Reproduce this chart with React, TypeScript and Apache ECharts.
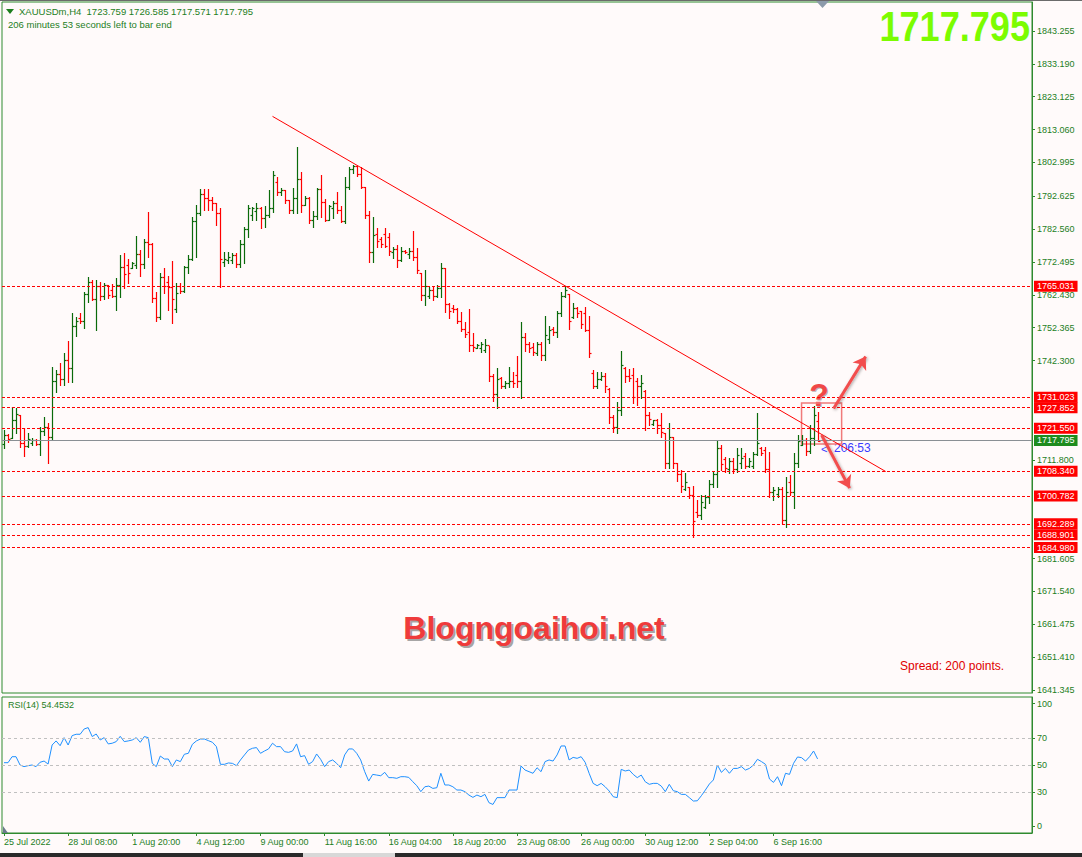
import React, { useEffect, useRef } from "react";
import * as echarts from "echarts";

// ---------- Data (XAUUSDm, H4) ----------
const opens = [
  1716.8, 1719.5, 1718.6, 1724.0, 1725.5, 1717.0, 1716.0, 1717.0, 1718.0, 1716.8,
  1720.8, 1722.0, 1719.0, 1736.0, 1738.2, 1736.5, 1742.5, 1739.9, 1752.8, 1755.4,
  1754.5, 1762.6, 1766.5, 1761.2, 1765.0, 1762.0, 1765.3, 1764.0, 1762.0, 1765.5,
  1771.0, 1771.5, 1770.5, 1771.5, 1775.0, 1772.0, 1778.5, 1778.0, 1761.5, 1755.5,
  1768.0, 1766.5, 1764.8, 1758.0, 1765.0, 1763.5, 1770.8, 1773.5, 1785.0, 1787.5,
  1793.3, 1792.0, 1791.5, 1790.5, 1787.5, 1772.5, 1773.0, 1773.0, 1774.5, 1772.0,
  1778.0, 1782.5, 1787.0, 1788.0, 1789.0, 1786.0, 1787.0, 1789.0, 1797.0, 1794.0,
  1794.5, 1791.5, 1788.5, 1792.0, 1797.8, 1790.0, 1792.0, 1785.5, 1786.5, 1795.0,
  1791.0, 1785.5, 1789.0, 1790.5, 1788.5, 1785.0, 1795.5, 1801.0, 1802.0, 1799.5,
  1795.5, 1787.0, 1775.5, 1781.0, 1779.5, 1781.0, 1780.0, 1775.5, 1776.5, 1773.0,
  1776.0, 1775.0, 1776.0, 1774.0, 1769.0, 1762.5, 1762.0, 1764.0, 1762.0, 1764.5,
  1770.5, 1759.5, 1758.5, 1758.0, 1754.5, 1752.0, 1751.0, 1747.0, 1746.0, 1746.0,
  1745.5, 1747.0, 1737.5, 1732.0, 1737.0, 1734.5, 1735.5, 1736.0, 1738.0, 1736.0,
  1749.5, 1747.5, 1746.5, 1744.5, 1747.5, 1744.0, 1749.0, 1752.0, 1751.0, 1757.0,
  1762.0, 1762.7, 1755.5, 1758.5, 1757.5, 1757.0, 1751.5, 1738.5, 1734.5, 1736.5,
  1737.5, 1733.5, 1725.0, 1722.0, 1727.0, 1740.0, 1737.5, 1738.0, 1736.0, 1734.5,
  1733.0, 1725.5, 1723.0, 1724.0, 1722.5, 1720.0, 1711.0, 1719.0, 1711.0, 1707.5,
  1703.0, 1703.5, 1701.0, 1696.0, 1695.0, 1697.5, 1700.5, 1704.5, 1707.5, 1715.5,
  1712.0, 1709.0, 1711.5, 1709.0, 1711.0, 1713.0, 1710.0, 1710.0, 1713.8, 1715.5,
  1715.0, 1709.0, 1702.0, 1701.5, 1703.0, 1693.5, 1705.0, 1702.0, 1711.0, 1716.5,
  1718.0, 1714.5, 1718.5, 1723.759,
];
const highs = [
  1721.0, 1719.8, 1728.2, 1727.7, 1725.6, 1721.5, 1720.2, 1718.5, 1718.2, 1721.8,
  1725.1, 1723.1, 1740.4, 1739.4, 1741.4, 1744.5, 1748.3, 1756.8, 1755.7, 1756.8,
  1763.4, 1768.0, 1767.0, 1767.0, 1766.5, 1766.1, 1765.4, 1765.7, 1767.5, 1774.6,
  1775.1, 1773.3, 1772.6, 1780.5, 1776.2, 1779.5, 1787.9, 1778.2, 1763.4, 1769.0,
  1770.7, 1768.2, 1772.8, 1765.9, 1765.9, 1771.3, 1774.6, 1786.2, 1790.0, 1794.7,
  1794.7, 1794.7, 1792.5, 1790.7, 1788.9, 1775.6, 1775.6, 1775.1, 1775.1, 1779.2,
  1783.1, 1790.0, 1789.4, 1790.5, 1789.4, 1789.7, 1794.5, 1800.4, 1798.6, 1795.1,
  1794.5, 1791.5, 1795.3, 1807.8, 1800.1, 1792.7, 1792.3, 1788.2, 1795.1, 1799.1,
  1791.7, 1790.0, 1791.3, 1794.0, 1789.7, 1798.4, 1801.7, 1802.2, 1802.0, 1801.7,
  1795.6, 1788.1, 1786.4, 1782.8, 1780.2, 1782.8, 1781.3, 1777.2, 1777.7, 1777.2,
  1776.2, 1776.7, 1782.1, 1776.7, 1769.2, 1770.0, 1764.9, 1764.9, 1765.4, 1772.1,
  1770.5, 1759.8, 1759.3, 1758.3, 1757.3, 1754.2, 1758.0, 1750.6, 1747.4, 1748.1,
  1748.8, 1746.6, 1738.1, 1739.9, 1737.4, 1736.1, 1740.2, 1738.9, 1743.7, 1754.0,
  1750.6, 1748.1, 1747.6, 1747.9, 1748.1, 1756.0, 1752.9, 1752.7, 1757.6, 1763.4,
  1765.1, 1762.7, 1759.8, 1758.8, 1757.6, 1758.8, 1756.0, 1739.4, 1738.9, 1738.7,
  1738.4, 1733.8, 1725.6, 1729.5, 1745.2, 1740.4, 1739.6, 1740.1, 1737.0, 1737.9,
  1733.3, 1726.6, 1724.1, 1724.3, 1726.3, 1720.0, 1723.3, 1719.0, 1711.0, 1708.8,
  1707.7, 1703.6, 1703.9, 1699.6, 1701.1, 1701.1, 1705.7, 1708.3, 1717.9, 1716.4,
  1712.8, 1712.3, 1712.3, 1715.4, 1715.4, 1713.9, 1712.3, 1714.4, 1726.1, 1715.9,
  1715.9, 1714.4, 1703.7, 1703.7, 1703.7, 1706.7, 1707.2, 1713.9, 1719.5, 1719.5,
  1718.5, 1722.5, 1728.4, 1726.585,
];
const lows = [
  1715.4, 1717.4, 1718.5, 1720.0, 1715.9, 1713.0, 1715.9, 1716.4, 1716.4, 1713.4,
  1719.5, 1711.0, 1718.0, 1732.8, 1734.8, 1734.8, 1735.8, 1735.8, 1749.8, 1753.7,
  1752.4, 1760.3, 1760.8, 1751.7, 1760.8, 1761.1, 1761.4, 1761.9, 1757.8, 1761.9,
  1764.4, 1766.0, 1770.5, 1770.5, 1768.2, 1770.5, 1773.9, 1760.1, 1754.4, 1755.0,
  1762.9, 1757.8, 1753.9, 1757.3, 1763.1, 1763.4, 1769.0, 1773.0, 1774.1, 1786.9,
  1788.4, 1788.4, 1788.4, 1783.8, 1764.9, 1771.3, 1772.1, 1772.1, 1770.9, 1771.1,
  1772.1, 1780.2, 1785.4, 1785.4, 1783.0, 1783.1, 1786.4, 1787.9, 1793.0, 1793.0,
  1790.5, 1787.4, 1787.6, 1787.4, 1787.9, 1790.0, 1784.3, 1783.3, 1785.6, 1786.2,
  1785.0, 1785.4, 1785.9, 1787.4, 1784.8, 1784.5, 1794.7, 1799.6, 1798.8, 1795.1,
  1785.9, 1772.6, 1772.6, 1777.2, 1777.2, 1777.2, 1774.6, 1773.6, 1771.1, 1772.8,
  1775.2, 1773.6, 1773.1, 1769.0, 1760.8, 1759.3, 1761.4, 1760.8, 1761.9, 1761.9,
  1757.3, 1755.2, 1757.3, 1753.7, 1751.2, 1749.6, 1745.3, 1745.3, 1746.0, 1744.8,
  1744.8, 1736.1, 1730.0, 1727.7, 1733.8, 1733.8, 1734.1, 1734.1, 1734.1, 1730.7,
  1745.3, 1745.0, 1744.0, 1744.0, 1742.5, 1742.5, 1747.6, 1750.1, 1749.6, 1756.0,
  1761.8, 1752.0, 1755.2, 1755.7, 1752.2, 1751.2, 1743.5, 1733.8, 1733.8, 1736.3,
  1732.8, 1723.1, 1720.5, 1720.0, 1725.6, 1735.8, 1736.1, 1729.2, 1728.7, 1730.7,
  1721.0, 1722.6, 1722.6, 1720.0, 1719.0, 1709.3, 1709.5, 1709.3, 1705.5, 1702.1,
  1702.6, 1700.1, 1688.3, 1694.5, 1693.9, 1697.0, 1698.6, 1703.7, 1703.7, 1708.8,
  1708.3, 1707.7, 1707.7, 1708.3, 1709.3, 1709.3, 1709.8, 1709.3, 1713.4, 1713.4,
  1708.3, 1700.6, 1699.6, 1700.6, 1692.4, 1691.4, 1701.1, 1697.0, 1709.8, 1716.4,
  1713.4, 1713.9, 1716.4, 1717.571,
];
const closes = [
  1719.5, 1718.3, 1724.0, 1726.0, 1717.0, 1716.0, 1718.3, 1717.9, 1716.8, 1720.8,
  1722.0, 1719.0, 1736.0, 1738.2, 1736.5, 1742.5, 1739.9, 1752.8, 1754.5, 1754.5,
  1762.6, 1766.5, 1761.2, 1765.0, 1762.0, 1765.3, 1762.3, 1762.0, 1765.5, 1771.0,
  1768.8, 1769.0, 1772.3, 1775.0, 1772.0, 1778.5, 1778.0, 1761.5, 1755.5, 1768.0,
  1765.0, 1764.8, 1761.0, 1763.0, 1763.5, 1770.8, 1773.5, 1785.0, 1787.5, 1793.3,
  1792.0, 1791.5, 1790.5, 1787.5, 1773.4, 1773.5, 1774.0, 1774.5, 1772.0, 1778.0,
  1782.5, 1789.0, 1789.0, 1789.0, 1786.0, 1787.0, 1789.0, 1799.0, 1794.0, 1794.5,
  1791.5, 1788.5, 1792.0, 1797.8, 1790.0, 1792.0, 1785.5, 1786.5, 1795.0, 1791.0,
  1785.5, 1789.5, 1790.5, 1788.5, 1785.0, 1795.5, 1801.0, 1801.8, 1799.5, 1795.5,
  1787.0, 1775.5, 1780.8, 1779.0, 1778.0, 1777.5, 1776.0, 1776.5, 1773.0, 1776.0,
  1775.5, 1776.0, 1774.0, 1770.0, 1762.5, 1765.0, 1764.0, 1762.0, 1764.5, 1770.5,
  1759.5, 1757.5, 1758.0, 1754.5, 1752.0, 1750.5, 1747.0, 1746.5, 1747.0, 1747.5,
  1747.0, 1737.5, 1732.0, 1736.5, 1734.5, 1735.5, 1736.0, 1735.5, 1736.0, 1749.5,
  1747.5, 1746.0, 1745.0, 1747.5, 1744.0, 1750.0, 1751.5, 1751.0, 1757.0, 1762.0,
  1764.0, 1754.5, 1758.5, 1757.0, 1753.5, 1751.5, 1744.5, 1734.5, 1736.5, 1737.5,
  1734.5, 1725.0, 1722.0, 1727.0, 1741.0, 1737.5, 1737.0, 1731.0, 1734.5, 1735.5,
  1725.5, 1724.5, 1724.0, 1722.5, 1720.5, 1711.0, 1719.0, 1711.0, 1707.5, 1704.0,
  1705.0, 1701.0, 1693.0, 1695.0, 1699.0, 1700.5, 1704.5, 1707.5, 1715.5, 1710.5,
  1709.5, 1711.5, 1709.0, 1713.5, 1712.5, 1710.0, 1711.5, 1713.8, 1717.0, 1714.0,
  1709.0, 1702.0, 1702.5, 1703.0, 1693.5, 1702.0, 1702.0, 1711.0, 1717.5, 1718.0,
  1714.5, 1718.5, 1725.5, 1717.795,
];
const rsi = [
  51.7, 51.7, 56.1, 56.1, 50.0, 48.8, 49.5, 50.0, 48.8, 52.0,
  52.9, 50.7, 64.7, 67.7, 64.2, 70.1, 64.7, 71.6, 72.6, 72.6,
  76.5, 77.5, 70.9, 72.8, 68.4, 70.1, 65.5, 66.0, 67.2, 71.1,
  67.2, 67.7, 68.4, 70.1, 66.7, 70.9, 70.1, 51.2, 48.8, 56.6,
  54.4, 54.4, 48.8, 53.7, 52.5, 57.9, 58.6, 65.2, 67.7, 69.1,
  69.1, 67.9, 66.7, 63.5, 50.5, 50.5, 51.5, 51.2, 49.5, 53.7,
  57.4, 61.0, 62.3, 62.8, 58.6, 60.3, 61.8, 66.0, 63.5, 63.5,
  59.8, 59.3, 60.3, 65.5, 56.1, 56.9, 50.5, 52.5, 58.1, 54.2,
  48.8, 52.5, 53.7, 51.2, 48.0, 57.4, 61.8, 61.8, 58.6, 53.7,
  45.1, 38.2, 43.1, 42.6, 42.1, 44.6, 40.7, 40.7, 40.2, 41.4,
  41.4, 40.9, 37.7, 34.8, 30.4, 34.0, 34.5, 32.8, 33.3, 43.9,
  35.3, 35.3, 34.0, 31.6, 31.6, 30.4, 27.9, 26.2, 27.9, 26.7,
  28.4, 22.3, 21.0, 26.0, 26.0, 26.0, 31.6, 31.6, 31.6, 49.3,
  46.3, 45.1, 43.9, 48.0, 45.1, 52.5, 53.7, 52.9, 57.4, 64.0,
  64.0, 53.7, 55.6, 54.9, 56.1, 52.0, 43.9, 36.5, 34.8, 36.5,
  34.0, 30.9, 26.7, 26.0, 46.8, 45.6, 46.3, 43.1, 40.7, 42.6,
  37.7, 35.8, 36.5, 36.5, 34.5, 30.4, 35.8, 31.1, 30.4, 28.4,
  28.4, 26.0, 23.5, 23.7, 27.4, 31.6, 36.0, 39.0, 50.0, 44.6,
  47.5, 43.9, 47.5, 47.5, 48.8, 46.3, 47.5, 50.0, 54.2, 52.5,
  50.5, 39.7, 37.2, 41.4, 34.8, 43.9, 43.1, 51.2, 55.9, 55.4,
  52.9, 56.1, 60.3, 54.45,
];

const timeLabels = [
  "25 Jul 2022", "28 Jul 08:00", "1 Aug 20:00", "4 Aug 12:00", "9 Aug 00:00",
  "11 Aug 16:00", "16 Aug 04:00", "18 Aug 20:00", "23 Aug 08:00", "26 Aug 00:00",
  "30 Aug 12:00", "2 Sep 04:00", "6 Sep 16:00",
];
const barsPerLabel = 16;
const slotCount = 257; // bars + empty space to the right (chart shift)

const priceTicks = [
  1641.345, 1651.41, 1661.475, 1671.54, 1681.605, 1711.8, 1742.3,
  1752.365, 1762.43, 1772.495, 1782.56, 1792.625, 1802.995, 1813.06, 1823.125,
  1833.19, 1843.255,
];
const levelPrices = ["1765.031", "1731.023", "1727.852", "1721.550", "1708.340", "1700.782", "1692.289", "1688.901", "1684.980"];
const bidPrice = "1717.795";
const rsiLevels = [30, 50, 70];
const rsiTickValues = [4.9, 30, 50, 70, 95.2];
const trendLine = [
  [67, 1817.1],
  [220, 1708.3],
];
const arrowUp = [
  [207, 1727.6],
  [215, 1743.5],
];
const arrowDown = [
  [204, 1719.5],
  [211, 1703.2],
];
const boxArea = [
  [199, 1729.3],
  [209, 1716.7],
];

const GREEN_TXT = "#1d7e1d";
const FRAME = "#2f8a2f";
const FONT = "Liberation Sans";

export default function App() {
  const ref = useRef<HTMLDivElement>(null);

  useEffect(() => {
    if (!ref.current) return;
    const chart = echarts.init(ref.current, null, { renderer: "svg" });

    const categories = Array.from({ length: slotCount }, (_, i) => "c" + i);
    const isLabelIdx = (idx: number) => idx % barsPerLabel === 0 && idx / barsPerLabel < timeLabels.length;
    const ohlc = opens.map((o, i) => [i, o, highs[i], lows[i], closes[i]]);
    const rsiData = rsi.map((v, i) => [i, v]);

    const levelLabel = {
      show: true,
      position: "end",
      distance: 2,
      formatter: (p: any) => p.name,
      color: "#ffffff",
      backgroundColor: "#ff0000",
      padding: [1, 3, 0, 3],
      fontSize: 9,
      lineHeight: 10,
      fontFamily: FONT,
    };

    const option: any = {
      animation: false,
      backgroundColor: "#fffafa",
      textStyle: { fontFamily: FONT },
      grid: [
        { left: 2, right: 50, top: 2, height: 691, show: true, borderColor: FRAME, borderWidth: 1, backgroundColor: "transparent" },
        { left: 2, right: 50, top: 697, height: 136, show: true, borderColor: FRAME, borderWidth: 1, backgroundColor: "transparent" },
      ],
      xAxis: [
        {
          type: "category", gridIndex: 0, data: categories, boundaryGap: true,
          axisLine: { show: false }, axisTick: { show: false }, axisLabel: { show: false }, splitLine: { show: false },
        },
        {
          type: "category", gridIndex: 1, data: categories, boundaryGap: true,
          axisLine: { show: true, lineStyle: { color: FRAME } },
          axisTick: { show: true, alignWithLabel: true, length: 3, interval: (idx: number) => isLabelIdx(idx), lineStyle: { color: FRAME } },
          axisLabel: {
            show: true, interval: (idx: number) => isLabelIdx(idx),
            formatter: (v: string) => timeLabels[Number(v.slice(1)) / barsPerLabel] || "",
            align: "left", margin: 4, fontSize: 9, color: GREEN_TXT, fontFamily: FONT, hideOverlap: false,
          },
          splitLine: { show: false },
        },
      ],
      yAxis: [
        {
          type: "value", gridIndex: 0, position: "right", min: 1640.44, max: 1852.14, scale: true,
          splitLine: { show: false },
          axisLine: { show: true, lineStyle: { color: FRAME } },
          axisTick: { show: true, length: 3, customValues: priceTicks, lineStyle: { color: FRAME } },
          axisLabel: {
            show: true, customValues: priceTicks, formatter: (v: number) => v.toFixed(3),
            fontSize: 9, color: GREEN_TXT, margin: 5, fontFamily: FONT,
          },
        },
        {
          type: "value", gridIndex: 1, position: "right", min: 0, max: 100,
          splitLine: { show: false },
          axisLine: { show: true, lineStyle: { color: FRAME } },
          axisTick: { show: true, length: 3, customValues: rsiTickValues, lineStyle: { color: FRAME } },
          axisLabel: {
            show: true, customValues: rsiTickValues,
            formatter: (v: number) => (v > 90 ? "100" : v < 10 ? "0" : String(v)),
            fontSize: 9, color: GREEN_TXT, margin: 5, fontFamily: FONT,
          },
        },
      ],
      series: [
        {
          name: "XAUUSDm",
          type: "custom",
          xAxisIndex: 0,
          yAxisIndex: 0,
          data: ohlc,
          encode: { x: 0, y: [1, 2, 3, 4] },
          clip: true,
          z: 2,
          renderItem: (params: any, api: any) => {
            const i = api.value(0);
            const o = api.value(1), h = api.value(2), l = api.value(3), c = api.value(4);
            const ph = api.coord([i, h]);
            const pl = api.coord([i, l]);
            const po = api.coord([i, o]);
            const pc = api.coord([i, c]);
            const x = Math.round(ph[0]) + 0.5;
            const color = c >= o ? "#0a6a0a" : "#ff0000";
            const style = { stroke: color, lineWidth: 1.2 };
            const yo = Math.round(po[1]) + 0.5;
            const yc = Math.round(pc[1]) + 0.5;
            return {
              type: "group",
              children: [
                { type: "line", shape: { x1: x, y1: Math.round(ph[1]), x2: x, y2: Math.round(pl[1]) + 1 }, style },
                { type: "line", shape: { x1: x - 2, y1: yo, x2: x, y2: yo }, style },
                { type: "line", shape: { x1: x, y1: yc, x2: x + 2, y2: yc }, style },
              ],
            };
          },
        },
        {
          name: "trend",
          type: "line",
          xAxisIndex: 0,
          yAxisIndex: 0,
          data: trendLine,
          symbol: "none",
          silent: true,
          z: 4,
          lineStyle: { color: "#ff0000", width: 1 },
          markLine: {
            silent: true,
            symbol: ["none", "none"],
            animation: false,
            data: [
              ...levelPrices.map((v) => ({
                name: v,
                yAxis: Number(v),
                lineStyle: { color: "#ff0000", type: [3, 2], width: 1 },
                label: levelLabel,
              })),
              {
                name: bidPrice,
                yAxis: Number(bidPrice),
                lineStyle: { color: "#8a8f94", type: "solid", width: 1 },
                label: { ...levelLabel, backgroundColor: "#1e8c1e" },
              },
              [
                { coord: arrowUp[0], symbol: "none", lineStyle: { color: "#f24d4d", width: 3, type: "solid", shadowBlur: 3, shadowColor: "rgba(0,0,0,0.35)", shadowOffsetX: 1, shadowOffsetY: 1 }, label: { show: false } },
                { coord: arrowUp[1], symbol: "arrow", symbolSize: 12 },
              ],
              [
                { coord: arrowDown[0], symbol: "none", lineStyle: { color: "#f24d4d", width: 3, type: "solid", shadowBlur: 3, shadowColor: "rgba(0,0,0,0.35)", shadowOffsetX: 1, shadowOffsetY: 1 }, label: { show: false } },
                { coord: arrowDown[1], symbol: "arrow", symbolSize: 12 },
              ],
            ],
          },
          markArea: {
            silent: true,
            itemStyle: { color: "rgba(255,255,255,0)", borderColor: "#f07a7a", borderWidth: 1.5 },
            data: [[{ coord: boxArea[0] }, { coord: boxArea[1] }]],
          },
        },
        {
          name: "RSI(14)",
          type: "line",
          xAxisIndex: 1,
          yAxisIndex: 1,
          data: rsiData,
          symbol: "none",
          silent: true,
          lineStyle: { color: "#1e90ff", width: 1 },
          markLine: {
            silent: true,
            symbol: ["none", "none"],
            label: { show: false },
            lineStyle: { color: "#c0c0c0", type: [3, 3], width: 1 },
            data: rsiLevels.map((v) => ({ yAxis: v })),
          },
        },
      ],
      graphic: [
        { type: "rect", shape: { x: 0, y: 0, width: 1082, height: 1 }, style: { fill: "#6b6b6b" }, silent: true },
        { type: "polygon", shape: { points: [[6, 9], [14, 9], [10, 14]] }, style: { fill: GREEN_TXT }, silent: true },
        {
          type: "text", x: 19, y: 11, silent: true,
          style: { text: "XAUUSDm,H4  1723.759 1726.585 1717.571 1717.795", fill: GREEN_TXT, font: `9.5px ${FONT}`, align: "left", verticalAlign: "middle", textAlign: "left", textVerticalAlign: "middle" },
        },
        {
          type: "text", x: 8, y: 24, silent: true,
          style: { text: "206 minutes 53 seconds left to bar end", fill: GREEN_TXT, font: `9.5px ${FONT}`, align: "left", verticalAlign: "middle", textAlign: "left", textVerticalAlign: "middle" },
        },
        {
          type: "text", x: 1030, y: 27, scaleX: 0.86, silent: true,
          style: { text: "1717.795", fill: "#7cfc00", font: `bold 42px ${FONT}`, align: "right", verticalAlign: "middle", textAlign: "right", textVerticalAlign: "middle" },
        },
        { type: "polygon", shape: { points: [[816, 1], [829, 1], [822.5, 8]] }, style: { fill: "#8c9aaa" }, silent: true },
        {
          type: "text", x: 536, y: 630, silent: true,
          style: { text: "Blogngoaihoi.net", fill: "rgba(90,90,90,0.55)", font: `bold 32px ${FONT}`, align: "center", verticalAlign: "middle", textAlign: "center", textVerticalAlign: "middle" },
        },
        {
          type: "text", x: 534, y: 628, silent: true,
          style: { text: "Blogngoaihoi.net", fill: "#ef3b3b", font: `bold 32px ${FONT}`, align: "center", verticalAlign: "middle", textAlign: "center", textVerticalAlign: "middle" },
        },
        {
          type: "text", x: 900, y: 666, silent: true,
          style: { text: "Spread: 200 points.", fill: "#e00000", font: `12px ${FONT}`, align: "left", verticalAlign: "middle", textAlign: "left", textVerticalAlign: "middle" },
        },
        {
          type: "text", x: 820, y: 396, silent: true,
          style: { text: "?", fill: "rgba(90,90,90,0.45)", font: `bold 32px ${FONT}`, align: "center", verticalAlign: "middle", textAlign: "center", textVerticalAlign: "middle" },
        },
        {
          type: "text", x: 819, y: 395, silent: true,
          style: { text: "?", fill: "#f04848", font: `bold 32px ${FONT}`, align: "center", verticalAlign: "middle", textAlign: "center", textVerticalAlign: "middle" },
        },
        {
          type: "text", x: 821, y: 449, silent: true,
          style: { text: "<", fill: "#3a3aff", font: `11px ${FONT}`, align: "left", verticalAlign: "middle", textAlign: "left", textVerticalAlign: "middle" },
        },
        {
          type: "text", x: 834, y: 448, silent: true,
          style: { text: "206:53", fill: "#3a3aff", font: `12px ${FONT}`, align: "left", verticalAlign: "middle", textAlign: "left", textVerticalAlign: "middle" },
        },
        {
          type: "text", x: 8, y: 705, silent: true,
          style: { text: "RSI(14) 54.4532", fill: GREEN_TXT, font: `9px ${FONT}`, align: "left", verticalAlign: "middle", textAlign: "left", textVerticalAlign: "middle" },
        },
        { type: "polygon", shape: { points: [[3, 826], [3, 833], [8, 833]] }, style: { fill: "#6d7b8d" }, silent: true },
        { type: "rect", shape: { x: 0, y: 853, width: 1082, height: 4 }, style: { fill: "#2a2a2a" }, silent: true },
        { type: "rect", shape: { x: 303, y: 853, width: 92, height: 4 }, style: { fill: "#d8d8d8" }, silent: true },
      ],
    };

    chart.setOption(option);
    return () => chart.dispose();
  }, []);

  return (
    <div
      ref={ref}
      style={{ position: "absolute", left: 0, top: 0, width: 1082, height: 857 }}
    />
  );
}
